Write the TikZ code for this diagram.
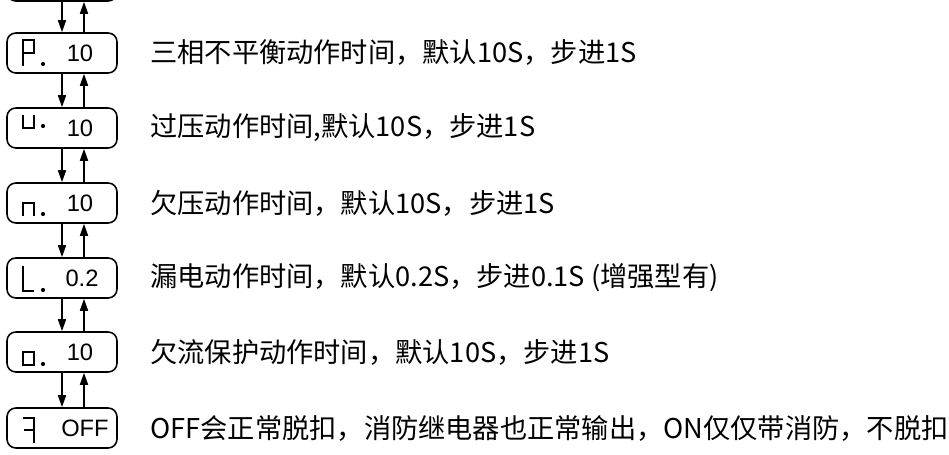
\documentclass[tikz,border=0pt]{standalone}
\usepackage{fontspec}
\setmainfont{Liberation Sans}
\newfontfamily\cjk{Noto Sans CJK SC}
\usetikzlibrary{calc,arrows.meta}

\tikzset{
  disp/.style={draw, line width=0.9pt, rounded corners=5pt,
    minimum width=2.2cm, minimum height=0.8cm, inner sep=0pt},
  val/.style={font=\fontsize{13.5}{15}\selectfont, inner sep=0pt},
  lbl/.style={anchor=west, font=\cjk\fontsize{15.5}{17}\selectfont, inner sep=0pt},
  seg/.style={line width=1.7pt, line join=miter},
  dn/.style={line width=0.9pt, -{Triangle[length=0.24cm,width=0.16cm]}},
}

\begin{document}
\begin{tikzpicture}[x=0.02cm,y=-0.02cm]
\useasboundingbox (0,0) rectangle (949,455);
\clip (0,0) rectangle (949,455);

% Display boxes
\node[disp] (top) at (62,-19) {};
\node[disp] (p) at (62,53) {};
\node[disp] (u) at (62,128) {};
\node[disp] (n) at (62,203) {};
\node[disp] (l) at (62,278) {};
\node[disp] (o) at (62,352) {};
\node[disp] (f) at (62,428) {};

% Values
\node[val] (pv) at (80,53) {10};
\node[val] (uv) at (80,128) {10};
\node[val] (nv) at (80,203) {10};
\node[val] (lv) at (82,278) {0.2};
\node[val] (ov) at (80,352) {10};
\node[val] (fv) at (85,428) {OFF};

% Segments
\begin{scope}[shift={(23,53)}]
\draw[seg] (0,13) -- (0,-13) -- (11,-13) -- (11,0) -- (0,0);
\fill (20,11) circle (2.1);
\end{scope}
\begin{scope}[shift={(23,128)}]
\draw[seg] (0,-13) -- (0,0) -- (11,0) -- (11,-13);
\fill (20,-2) circle (2.1);
\end{scope}
\begin{scope}[shift={(23,203)}]
\draw[seg] (0,13) -- (0,0) -- (11,0) -- (11,13);
\fill (20,11) circle (2.1);
\end{scope}
\begin{scope}[shift={(23,278)}]
\draw[seg] (0,-12) -- (0,13) -- (11,13);
\fill (20,12) circle (2.1);
\end{scope}
\begin{scope}[shift={(23,352)}]
\draw[seg] (0,0) rectangle (11,13);
\fill (20,12) circle (2.1);
\end{scope}
\begin{scope}[shift={(23,430)}]
\draw[seg] (0,-12) -- (11,-12) -- (11,13);
\draw[seg] (1,0) -- (11,0);
\end{scope}

% Arrows
\foreach \a/\b in {top/p, p/u, u/n, n/l, l/o, o/f} {
  \draw[dn] (\a.south) -- (\b.north);
  \draw[dn] ($(\b.north)+(22,0)$) -- ($(\a.south)+(22,0)$);
}

% Labels
\node[lbl] (pt) at (150,53) {三相不平衡动作时间，默认10S，步进1S};
\node[lbl] (ut) at (150,128) {过压动作时间,默认10S，步进1S};
\node[lbl] (nt) at (150,203) {欠压动作时间，默认10S，步进1S};
\node[lbl] (lt) at (150,278) {漏电动作时间，默认0.2S，步进0.1S (增强型有)};
\node[lbl] (ot) at (150,352) {欠流保护动作时间，默认10S，步进1S};
\node[lbl] (ft) at (150,428) {OFF会正常脱扣，消防继电器也正常输出，ON仅仅带消防，不脱扣};
\end{tikzpicture}
\end{document}
